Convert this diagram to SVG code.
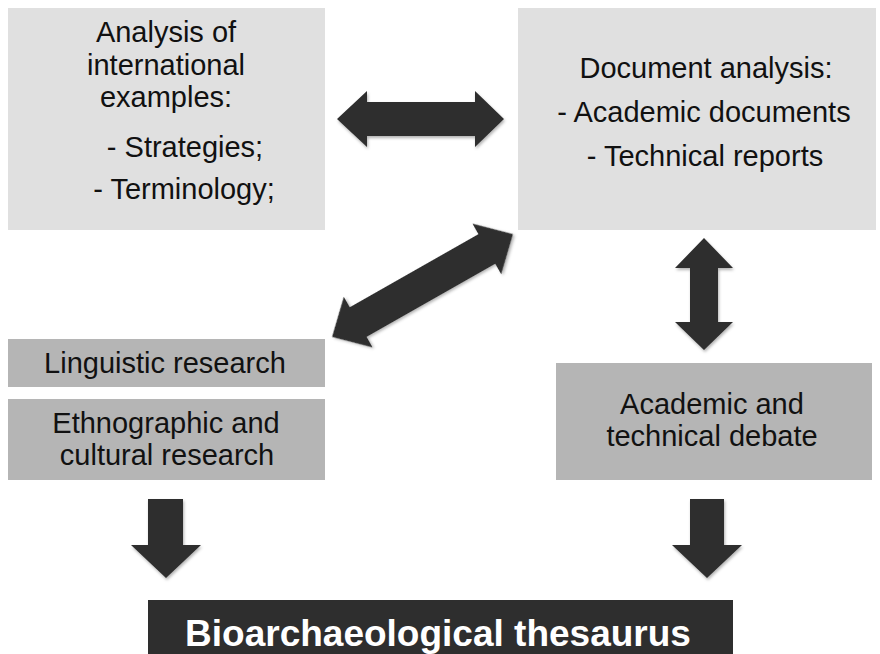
<svg xmlns="http://www.w3.org/2000/svg" width="880" height="654" viewBox="0 0 880 654">
<style>
  .light { fill: #e0e0e0; }
  .mid { fill: #b5b5b5; }
  .dark { fill: #2e2e2e; }
  .t { font-family: "Liberation Sans", Arial, sans-serif; font-size: 29px; fill: #111; text-anchor: middle; }
  .tb { font-family: "Liberation Sans", Arial, sans-serif; font-size: 37px; font-weight: bold; fill: #fff; text-anchor: middle; }
  .arrow { fill: #2f2f2f; filter: url(#sh); }
</style>
<defs>
  <filter id="sh" x="-20%" y="-20%" width="140%" height="140%">
    <feDropShadow dx="1" dy="2" stdDeviation="1.5" flood-color="#000" flood-opacity="0.3"/>
  </filter>
</defs>
<rect width="880" height="654" fill="#fff"/>

<g id="node-international">
  <rect class="light" x="8" y="8" width="317" height="222"/>
  <text class="t" x="166" y="42">Analysis of</text>
  <text class="t" x="166" y="75">international</text>
  <text class="t" x="166" y="107">examples:</text>
  <text class="t" x="185" y="157">- Strategies;</text>
  <text class="t" x="184" y="199">- Terminology;</text>
</g>

<g id="node-document">
  <rect class="light" x="518" y="8" width="358" height="222"/>
  <text class="t" x="706" y="78">Document analysis:</text>
  <text class="t" x="704" y="122">- Academic documents</text>
  <text class="t" x="705" y="166">- Technical reports</text>
</g>

<g id="node-linguistic">
  <rect class="mid" x="8" y="339" width="317" height="48"/>
  <text class="t" x="165" y="373">Linguistic research</text>
</g>

<g id="node-ethnographic">
  <rect class="mid" x="8" y="399" width="317" height="81"/>
  <text class="t" x="166" y="433">Ethnographic and</text>
  <text class="t" x="167" y="465">cultural research</text>
</g>

<g id="node-debate">
  <rect class="mid" x="556" y="363" width="316" height="117"/>
  <text class="t" x="712" y="414">Academic and</text>
  <text class="t" x="712" y="446">technical debate</text>
</g>

<g id="node-thesaurus">
  <rect class="dark" x="148" y="600" width="585" height="54"/>
  <text class="tb" x="438" y="646">Bioarchaeological thesaurus</text>
</g>

<g id="connectors">
  <polygon class="arrow" points="337,119 367,91 367,102 475,102 475,91 504,119 475,147 475,136 367,136 367,147"/>
  <polygon class="arrow" transform="translate(422.5,285.5) rotate(-29.6)" points="-104,0 -74,-29 -74,-17 74,-17 74,-29 104,0 74,29 74,17 -74,17 -74,29"/>
  <polygon class="arrow" points="704,238 733,268 718,268 718,322 733,322 704,350 675,322 690,322 690,268 675,268"/>
  <polygon class="arrow" points="148,499 183,499 183,545 201,545 166,578 131,545 148,545"/>
  <polygon class="arrow" points="690,499 724,499 724,545 742,545 707,578 672,545 690,545"/>
</g>
</svg>
